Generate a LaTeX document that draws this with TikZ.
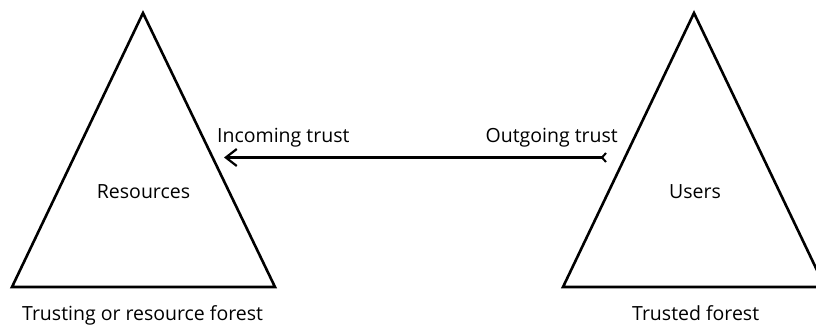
\documentclass[tikz,border=0pt]{standalone}
\usepackage{fontspec}
\setmainfont{Open Sans}
\usetikzlibrary{arrows.meta}
\begin{document}
\begin{tikzpicture}[x=1pt,y=-1pt,
  tri/.style={line width=2.6pt,line join=miter},
  lbl/.style={inner sep=0pt,font=\fontsize{19.5}{22}\selectfont},
  trustarrow/.style={line width=2.4pt,
    {Straight Barb[reversed,length=4pt,width=9pt,line width=2pt]}-{Straight Barb[length=11pt,width=17pt,line width=2.2pt]}}]
\useasboundingbox (0,0) rectangle (816,324);
% left triangle
\coordinate (la) at (143,13);
\coordinate (lb) at (12,287);
\coordinate (lc) at (275,287);
\draw[tri] (la) -- (lb) -- (lc) -- cycle;
% right triangle
\coordinate (ra) at (694,13);
\coordinate (rb) at (563,287);
\coordinate (rc) at (825,287);
\draw[tri] (ra) -- (rb) -- (rc) -- cycle;
% labels
\node[lbl,anchor=base] (res) at (143.5,198) {Resources};
\node[lbl,anchor=base] (usr) at (695,198) {Users};
\node[lbl,anchor=base west] (inc) at (217,142) {Incoming trust};
\node[lbl,anchor=base east] (outg) at (618,142) {Outgoing trust};
\node[lbl,anchor=base west] (tf) at (22,320) {Trusting or resource forest};
\node[lbl,anchor=base west] (tdf) at (632,320) {Trusted forest};
% trust arrow
\coordinate (tail) at (607,157.5);
\coordinate (head) at (224,157.5);
\draw[trustarrow] (tail) -- (head);
\end{tikzpicture}
\end{document}
